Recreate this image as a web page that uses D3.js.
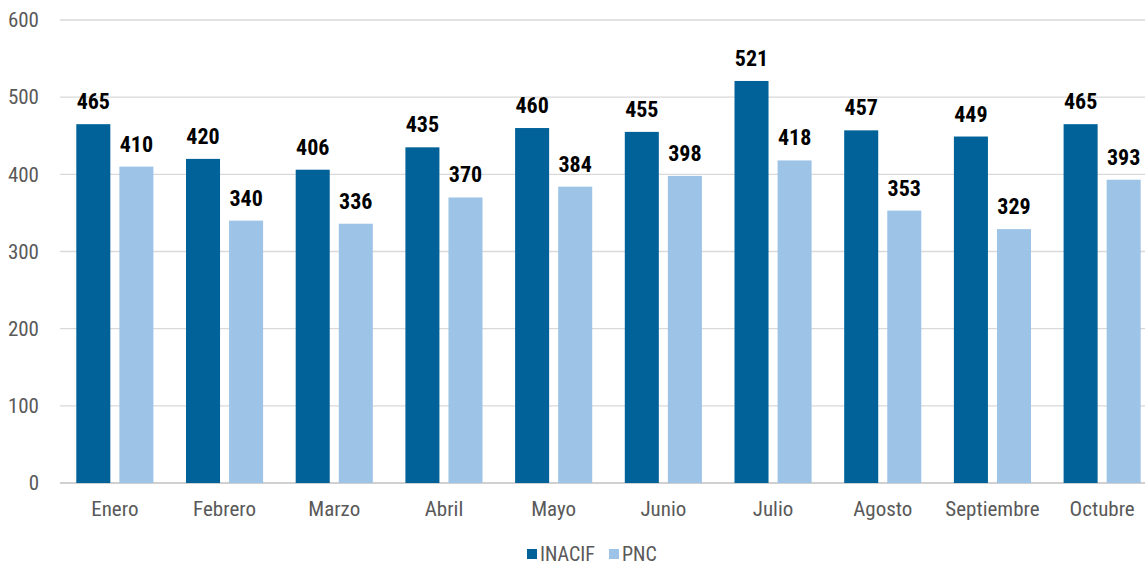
<!DOCTYPE html>
<html><head><meta charset="utf-8">
<script src="https://cdn.jsdelivr.net/npm/d3@7"></script>
<style>
body{margin:0;background:#fff;}
text{font-family:"Liberation Sans Narrow","Roboto Condensed","Arial Narrow",sans-serif;}
</style></head><body>
<svg id="c" width="1145" height="565"></svg>
<script>
const categories=["Enero","Febrero","Marzo","Abril","Mayo","Junio","Julio","Agosto","Septiembre","Octubre"];
const seriesNames=["INACIF","PNC"];
const inacif=[465,420,406,435,460,455,521,457,449,465];
const pnc=[410,340,336,370,384,398,418,353,329,393];
const yTicks=[0,100,200,300,400,500,600];
const colors=["#006298","#9dc3e6"];

const svg=d3.select("#c");
const x0=d3.scaleBand().domain(categories).range([60,1157]).paddingInner(0).paddingOuter(0);
const y=d3.scaleLinear().domain([0,600]).range([483,20]);
const inner=d3.scaleBand().domain(seriesNames).range([16.3,x0.bandwidth()-16.3]).paddingInner(0.21);

// gridlines
svg.append("g").selectAll("line").data(yTicks).join("line")
 .attr("x1",60).attr("x2",1145).attr("y1",d=>y(d)).attr("y2",d=>y(d))
 .attr("stroke",d=>d===0?"#d0d0d0":"#d9d9d9").attr("stroke-width",d=>d===0?2:1.3);

// y axis
const ya=d3.axisLeft(y).tickValues(yTicks).tickSize(0).tickPadding(21);
svg.append("g").attr("transform","translate(60,0)").call(ya)
 .call(g=>g.select(".domain").remove())
 .call(g=>g.selectAll("text").attr("fill","#595959").style("font-size","21px"));

// x axis
const xa=d3.axisBottom(x0).tickSize(0).tickPadding(18);
svg.append("g").attr("transform","translate(0,483)").call(xa)
 .call(g=>g.select(".domain").remove())
 .call(g=>g.selectAll("text").attr("fill","#595959").style("font-size","21px"));

const data=categories.map((c,i)=>({c,vals:[{s:"INACIF",v:inacif[i]},{s:"PNC",v:pnc[i]}]}));
const grp=svg.append("g").selectAll("g").data(data).join("g").attr("transform",d=>`translate(${x0(d.c)},0)`);
grp.selectAll("rect").data(d=>d.vals).join("rect")
 .attr("x",d=>inner(d.s)).attr("width",inner.bandwidth())
 .attr("y",d=>y(d.v)).attr("height",d=>y(0)-y(d.v))
 .attr("fill",(d,i)=>colors[i]);
grp.selectAll("text").data(d=>d.vals).join("text")
 .attr("x",d=>inner(d.s)+inner.bandwidth()/2).attr("y",d=>y(d.v)-15)
 .attr("text-anchor","middle").attr("font-weight","bold").style("font-size","22px").attr("fill","#000")
 .text(d=>d.v);

// legend
const lg=svg.append("g");
const lx=[527,609];
seriesNames.forEach((s,i)=>{
 lg.append("rect").attr("x",lx[i]).attr("y",549).attr("width",10).attr("height",10).attr("fill",colors[i]);
 lg.append("text").attr("x",lx[i]+13).attr("y",561).attr("fill","#595959").style("font-size","20px").text(s);
});
</script></body></html>
